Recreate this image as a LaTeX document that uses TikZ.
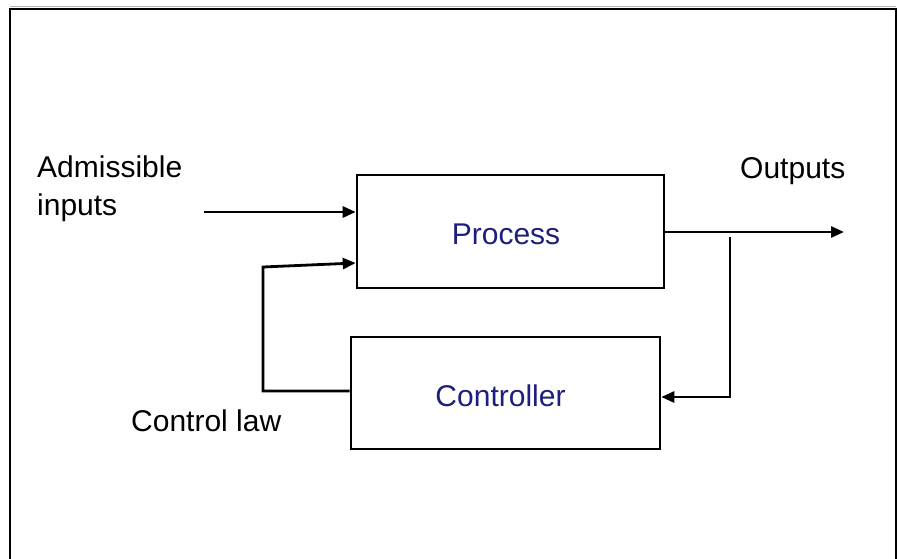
\documentclass[tikz,border=0pt]{standalone}
\usepackage{fontspec}
\setmainfont{Liberation Sans}
\usetikzlibrary{arrows.meta,calc}
\definecolor{labelblue}{RGB}{30,30,125}
\tikzset{
  blockbox/.style={draw, line width=2.6pt, minimum width=307pt, minimum height=113pt, inner sep=0pt, text=labelblue, font=\fontsize{30}{34}\selectfont},
  sigline/.style={line width=2.8pt, -{Triangle[length=13pt,width=11pt]}},
  caption/.style={font=\fontsize{30}{38}\selectfont, inner sep=0pt, align=left}
}
\begin{document}
\begin{tikzpicture}[x=1pt,y=-1pt]
		%%%%% START %%%%%
		\useasboundingbox (0,0) rectangle (899,559);
		
		% frame
		\draw[line width=1.2pt, color=black!30] (10,6.5) -- (896,6.5);
		\draw[line width=2.2pt] (10,575) -- (10,9) -- (896,9) -- (896,575);
		
		% blocks
		\node[blockbox] (proc) at (510.5,231.5) {\raisebox{-12.5pt}[0pt][0pt]{\hspace*{-9pt}Process}};
		\node[blockbox, minimum width=309pt, minimum height=112pt] (ctrl) at (505.5,393) {\raisebox{-13pt}[0pt][0pt]{\hspace*{-10pt}Controller}};
		
		% labels
		\node[caption, anchor=north west] (inlabel) at (37,156) {Admissible\\inputs};
		\node[caption, anchor=base west] (outlabel) at (740,178) {Outputs};
		\node[caption, anchor=base west] (lawlabel) at (131,431) {Control law};
		
		% signals
		\coordinate (insrc) at (204,212);
		\draw[sigline] (insrc) -- (insrc -| proc.west);
		
		\coordinate (outend) at (844,232);
		\draw[sigline] (outend -| proc.east) -- (outend);
		
		\coordinate (tapoff) at (730,237);
		\coordinate (fbcorner) at (730,397);
		\draw[sigline] (tapoff) -- (fbcorner) -- (fbcorner -| ctrl.east);
		
		\coordinate (lawcorner) at (263,391);
		\coordinate (lawtop) at (263,267);
		\draw[sigline] (lawcorner -| ctrl.west) -- (lawcorner) -- (lawtop) -- ($(proc.west)+(0,31.5)$);
		
		%%%%% END %%%%%
\end{tikzpicture}
\end{document}
